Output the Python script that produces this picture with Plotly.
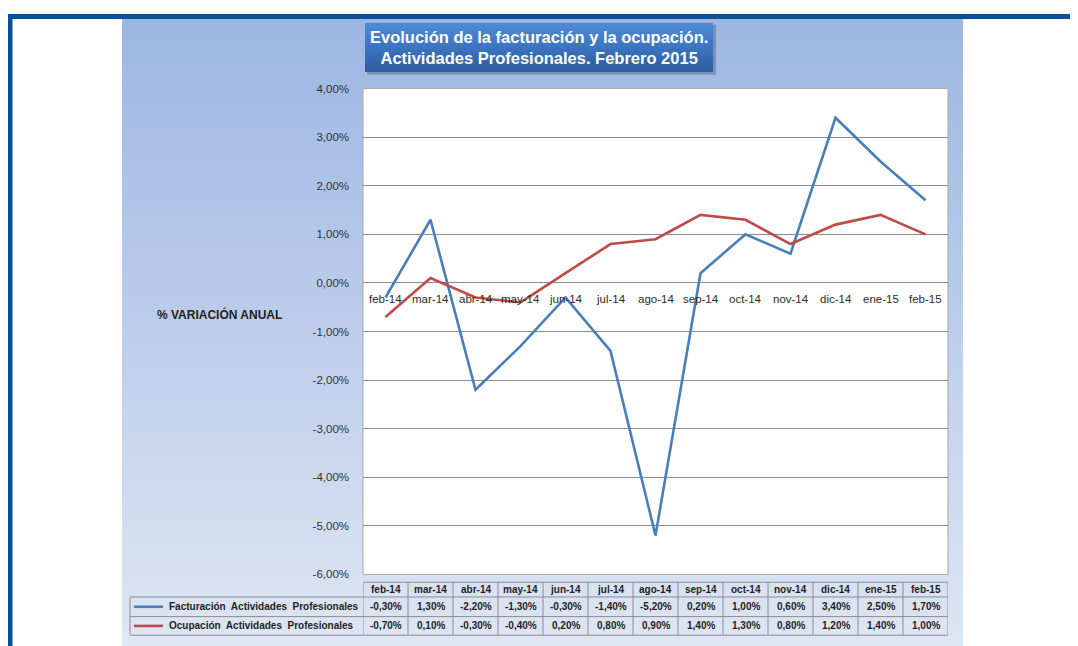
import base64
import plotly.graph_objects as go

# ---------------- data ----------------
categories = ["feb-14", "mar-14", "abr-14", "may-14", "jun-14", "jul-14", "ago-14",
              "sep-14", "oct-14", "nov-14", "dic-14", "ene-15", "feb-15"]
facturacion = [-0.30, 1.30, -2.20, -1.30, -0.30, -1.40, -5.20, 0.20, 1.00, 0.60, 3.40, 2.50, 1.70]
ocupacion = [-0.70, 0.10, -0.30, -0.40, 0.20, 0.80, 0.90, 1.40, 1.30, 0.80, 1.20, 1.40, 1.00]
series_names = ["Facturación  Actividades  Profesionales", "Ocupación  Actividades  Profesionales"]
y_ticks = [-6, -5, -4, -3, -2, -1, 0, 1, 2, 3, 4]
title_lines = ["Evolución de la facturación y la ocupación.", "Actividades Profesionales. Febrero 2015"]
y_title = "% VARIACIÓN ANUAL"

# ---------------- layout helpers ----------------
W, H = 1078, 646
OFF = 8  # page body margin: screen pixel = figure pixel + OFF


def px(x):
    return (x - OFF) / W


def py(y):
    return 1 - (y - OFF) / H


BLUE = "#4A7EBB"
RED = "#BE4B48"
TXT = "#1F1F1F"
GRID = "#8C8C8C"

PX0, PX1, PY0, PY1 = 363, 948, 84, 579


def svg_uri(svg):
    return "data:image/svg+xml;base64," + base64.b64encode(svg.encode("utf-8")).decode()


panel_svg = ('<svg xmlns="http://www.w3.org/2000/svg" width="100" height="100" preserveAspectRatio="none">'
             '<defs><linearGradient id="g" x1="0" y1="0" x2="0" y2="1">'
             '<stop offset="0" stop-color="#9CB6E3"/><stop offset="1" stop-color="#DFE6F4"/>'
             '</linearGradient></defs><rect width="100" height="100" fill="url(#g)"/></svg>')
title_svg = ('<svg xmlns="http://www.w3.org/2000/svg" width="100" height="100" preserveAspectRatio="none">'
             '<defs><linearGradient id="t" x1="0" y1="0" x2="0" y2="1">'
             '<stop offset="0" stop-color="#4E8BD6"/><stop offset="0.5" stop-color="#3C74C0"/>'
             '<stop offset="1" stop-color="#2B5A9E"/>'
             '</linearGradient></defs><rect width="100" height="100" fill="url(#t)"/></svg>')

fig = go.Figure()
fig.add_trace(go.Scatter(x=categories, y=facturacion, mode="lines",
                         line=dict(color=BLUE, width=2.6), name=series_names[0], cliponaxis=True))
fig.add_trace(go.Scatter(x=categories, y=ocupacion, mode="lines",
                         line=dict(color=RED, width=2.6), name=series_names[1], cliponaxis=True))

shapes = []
# blue frame
shapes.append(dict(type="rect", xref="paper", yref="paper", x0=px(8), x1=1.0, y0=py(13), y1=py(8),
                   line=dict(width=0), fillcolor="#0C4F99", layer="below"))
shapes.append(dict(type="rect", xref="paper", yref="paper", x0=px(8), x1=px(12.5), y0=0, y1=py(8),
                   line=dict(width=0), fillcolor="#0C4F99", layer="below"))
# plot area
shapes.append(dict(type="rect", xref="paper", yref="paper", x0=px(PX0), x1=px(PX1), y0=py(PY1), y1=py(PY0),
                   line=dict(width=1, color="#A6A6A6"), fillcolor="white", layer="below"))
# title shadow
shapes.append(dict(type="rect", xref="paper", yref="paper", x0=px(367), x1=px(716), y0=py(70), y1=py(19),
                   line=dict(width=0), fillcolor="rgba(60,70,90,0.35)", layer="below"))

# table lines (columns follow the category axis)
n = len(categories)
tb_top, tb_h1, tb_r1, tb_r2 = 587, 602, 622, 641
tcol = "#8C8C8C"
shapes.append(dict(type="line", xref="x", yref="paper", x0=-0.5, x1=n - 0.5, y0=py(tb_top), y1=py(tb_top),
                   line=dict(color=tcol, width=1)))
for yy in (tb_h1, tb_r1, tb_r2):
    shapes.append(dict(type="line", xref="paper", yref="paper", x0=px(130), x1=px(PX1), y0=py(yy), y1=py(yy),
                       line=dict(color=tcol, width=1)))
for i in range(n + 1):
    shapes.append(dict(type="line", xref="x", yref="paper", x0=i - 0.5, x1=i - 0.5, y0=py(tb_top), y1=py(tb_r2),
                       line=dict(color=tcol, width=1)))
shapes.append(dict(type="line", xref="paper", yref="paper", x0=px(130), x1=px(130), y0=py(tb_h1), y1=py(tb_r2),
                   line=dict(color=tcol, width=1)))
# legend keys
for yy, col in ((612, BLUE), (631.5, RED)):
    shapes.append(dict(type="line", xref="paper", yref="paper", x0=px(134), x1=px(163), y0=py(yy), y1=py(yy),
                       line=dict(color=col, width=2.6)))

annotations = []
# title
annotations.append(dict(xref="paper", yref="paper", x=px(539), y=py(42), showarrow=False,
                        text="<b>" + title_lines[0] + "</b><br><b>" + title_lines[1] + "</b>",
                        font=dict(family="Liberation Sans, Arial, sans-serif", size=16.5, color="white"),
                        align="center", xanchor="center", yanchor="middle"))
# y title
annotations.append(dict(xref="paper", yref="paper", x=px(219), y=py(314), showarrow=False,
                        text="<b>" + y_title + "</b>",
                        font=dict(family="Liberation Sans, Arial, sans-serif", size=12, color=TXT),
                        xanchor="center", yanchor="middle"))
# category labels inside plot, below the zero line
for c in categories:
    annotations.append(dict(xref="x", yref="y", x=c, y=0, yanchor="top", xanchor="center", yshift=-8,
                            showarrow=False, text=c,
                            font=dict(family="Liberation Sans, Arial, sans-serif", size=11.5, color="#2A2A2A")))


def fmt(v):
    return ("%.2f" % v).replace(".", ",") + "%"


tfont = dict(family="Liberation Sans, Arial, sans-serif", size=10, color=TXT)
for i, c in enumerate(categories):
    annotations.append(dict(xref="x", yref="paper", x=c, y=py((tb_top + tb_h1) / 2), showarrow=False,
                            text="<b>" + c + "</b>", font=tfont, xanchor="center", yanchor="middle"))
    annotations.append(dict(xref="x", yref="paper", x=c, y=py((tb_h1 + tb_r1) / 2), showarrow=False,
                            text="<b>" + fmt(facturacion[i]) + "</b>", font=tfont, xanchor="center", yanchor="middle"))
    annotations.append(dict(xref="x", yref="paper", x=c, y=py((tb_r1 + tb_r2) / 2), showarrow=False,
                            text="<b>" + fmt(ocupacion[i]) + "</b>", font=tfont, xanchor="center", yanchor="middle"))
for name, yy in ((series_names[0], (tb_h1 + tb_r1) / 2), (series_names[1], (tb_r1 + tb_r2) / 2)):
    annotations.append(dict(xref="paper", yref="paper", x=px(167), y=py(yy), showarrow=False,
                            text="<b>" + name.replace("  ", "&nbsp; ") + "</b>", font=tfont,
                            xanchor="left", yanchor="middle"))

images = [
    dict(source=svg_uri(panel_svg), xref="paper", yref="paper", x=px(122), y=py(13),
         sizex=px(963) - px(122), sizey=py(13) - py(654), sizing="stretch", layer="below",
         xanchor="left", yanchor="top"),
    dict(source=svg_uri(title_svg), xref="paper", yref="paper", x=px(365), y=py(17),
         sizex=px(713) - px(365), sizey=py(17) - py(67), sizing="stretch", layer="above",
         xanchor="left", yanchor="top"),
]

fig.update_layout(
    width=W, height=H,
    margin=dict(l=0, r=0, t=0, b=0),
    paper_bgcolor="white",
    plot_bgcolor="rgba(0,0,0,0)",
    showlegend=False,
    separators=",.",
    shapes=shapes,
    annotations=annotations,
    images=images,
    xaxis=dict(domain=[px(PX0), px(PX1)], type="category", range=[-0.5, n - 0.5],
               showticklabels=False, showgrid=False, zeroline=False, showline=False, ticks=""),
    yaxis=dict(domain=[py(PY1), py(PY0)], range=[-6, 4], tickvals=y_ticks,
               ticktext=[fmt(v) for v in y_ticks], showgrid=True, gridcolor=GRID, gridwidth=1,
               zeroline=True, zerolinecolor=GRID, zerolinewidth=1, showline=False, ticks="",
               ticklabelstandoff=13,
               tickfont=dict(family="Liberation Sans, Arial, sans-serif", size=11.5, color="#333333")),
)

fig.write_html("out.html")
